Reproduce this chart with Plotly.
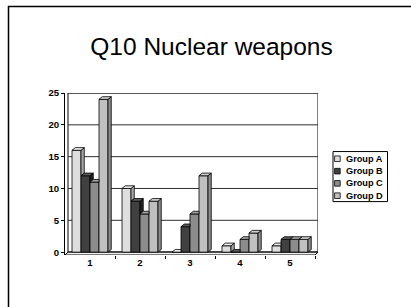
import plotly.graph_objects as go

# ---------------- data ----------------
categories = ["1", "2", "3", "4", "5"]
groups = ["Group A", "Group B", "Group C", "Group D"]
group_a = [16, 10, 0, 1, 1]
group_b = [12, 8, 4, 0, 2]
group_c = [11, 6, 6, 2, 2]
group_d = [24, 8, 12, 3, 2]
y_ticks = [0, 5, 10, 15, 20, 25]
series = [group_a, group_b, group_c, group_d]
title_text = "Q10 Nuclear weapons"

# ---------------- style ----------------
front_colors = ["#dedede", "#404040", "#8c8c8c", "#c0c0c0"]
side_colors = ["#a6a6a6", "#222222", "#5e5e5e", "#8c8c8c"]
top_colors = ["#ececec", "#5a5a5a", "#a2a2a2", "#d0d0d0"]
FONT = "Liberation Sans, Arial, sans-serif"

W, H = 411, 307
L, R, T, B = 65, 93, 93, 52.14
PW = W - L - R
PH = H - T - B
XR = [-0.56, 4.5]
YR = [-0.45, 25]

bar_w = 0.18          # width of one bar (category units)
shift = -0.06         # front plane offset relative to back wall
dx, dy = 0.065, 0.42  # 3-D depth (x units, y units)


def paper(px, py):
    return (px - L) / PW, (H - B - py) / PH


fig = go.Figure()
n = len(groups)

# front faces (real bars)
for j, (name, vals) in enumerate(zip(groups, series)):
    fig.add_trace(go.Bar(
        x=[i + shift for i in range(len(categories))],
        y=vals,
        width=bar_w,
        offset=-n / 2 * bar_w + j * bar_w,
        name=name,
        marker=dict(color=front_colors[j], line=dict(color="#000000", width=0.8)),
        showlegend=False,
        hoverinfo="skip",
    ))

# top and side faces (derived from the same values)
for j, vals in enumerate(series):
    tx, ty, sx, sy = [], [], [], []
    for i, v in enumerate(vals):
        x0 = i + shift - n / 2 * bar_w + j * bar_w
        x1 = x0 + bar_w
        nxt = series[j + 1][i] if j + 1 < n else None
        if nxt is not None and nxt > v:
            tx += [x0, x0 + dx, x1, x1, x0, None]
            ty += [v, v + dy, v + dy, v, v, None]
        else:
            tx += [x0, x0 + dx, x1 + dx, x1, x0, None]
            ty += [v, v + dy, v + dy, v, v, None]
            low = 0 if nxt is None else nxt
            if v > low or nxt is None:
                sx += [x1, x1, x1 + dx, x1 + dx, x1, None]
                sy += [low, v, v + dy, low + dy, low, None]
    fig.add_trace(go.Scatter(x=sx, y=sy, mode="lines", fill="toself",
                             fillcolor=side_colors[j], line=dict(color="#000000", width=0.8),
                             showlegend=False, hoverinfo="skip"))
    fig.add_trace(go.Scatter(x=tx, y=ty, mode="lines", fill="toself",
                             fillcolor=top_colors[j], line=dict(color="#000000", width=0.8),
                             showlegend=False, hoverinfo="skip"))

shapes = []
# back wall
shapes.append(dict(type="rect", xref="x", yref="y", x0=-0.5, x1=4.5, y0=0, y1=25,
                   line=dict(color="#000000", width=1), fillcolor="white", layer="below"))
# grid lines on the back wall
for yt in y_ticks:
    shapes.append(dict(type="line", xref="x", yref="y", x0=-0.5, x1=4.5, y0=yt, y1=yt,
                       line=dict(color="#303030", width=1), layer="below"))
# floor
shapes.append(dict(type="path", xref="x", yref="y",
                   path="M -0.5,0 L 4.5,0 L 4.44,-0.45 L -0.56,-0.45 Z",
                   fillcolor="#f0f0f0", line=dict(color="#000000", width=1), layer="below"))
# slide frame
fx0, fy1 = paper(8.5, 6.5)
fx1, fy0 = paper(430, 330)
shapes.append(dict(type="rect", xref="paper", yref="paper", x0=fx0, x1=fx1, y0=fy0, y1=fy1,
                   line=dict(color="#000000", width=1.5), layer="below"))

# legend (drawn manually to match the compact reference legend)
lx0, ly1 = paper(333.0, 151.5)
lx1, ly0 = paper(387.5, 201.5)
shapes.append(dict(type="rect", xref="paper", yref="paper", x0=lx0, x1=lx1, y0=ly0, y1=ly1,
                   line=dict(color="#000000", width=1), fillcolor="white", layer="below"))
annotations = []
row_y = [158.7, 171.1, 183.3, 195.6]
for j, name in enumerate(groups):
    sx0, sy1 = paper(334.6, row_y[j] - 2.8)
    sx1, sy0 = paper(340.2, row_y[j] + 2.8)
    shapes.append(dict(type="rect", xref="paper", yref="paper", x0=sx0, x1=sx1, y0=sy0, y1=sy1,
                       line=dict(color="#000000", width=0.8), fillcolor=front_colors[j]))
    ax, ay = paper(344.6, row_y[j])
    annotations.append(dict(xref="paper", yref="paper", x=ax, y=ay, text="<b>%s</b>" % name,
                            showarrow=False, xanchor="left", yanchor="middle", borderpad=0,
                            font=dict(family=FONT, size=9.2, color="#000000")))

fig.update_layout(
    width=W, height=H,
    margin=dict(l=L, r=R, t=T, b=B, pad=0, autoexpand=False),
    paper_bgcolor="white", plot_bgcolor="rgba(0,0,0,0)",
    barmode="overlay",
    title=dict(text=title_text, xref="container", yref="container",
               x=211.5 / W, y=1 - 46 / H, xanchor="center", yanchor="middle",
               font=dict(family=FONT, size=24.5, color="#000000")),
    shapes=shapes,
    annotations=annotations,
    showlegend=False,
    xaxis=dict(range=XR, showgrid=False, zeroline=False, showline=False, automargin=False,
               tickvals=[i + shift for i in range(len(categories))], ticktext=["<b>%s</b>" % c for c in categories],
               ticks="", tickfont=dict(family=FONT, size=9.6, color="#000000"),
               minor=dict(tickvals=[i + 0.44 for i in range(len(categories))], ticks="outside",
                          ticklen=3, tickcolor="#000000", tickwidth=1, showgrid=False)),
    yaxis=dict(range=YR, showgrid=False, zeroline=False, showline=True, linecolor="#000000",
               linewidth=1, automargin=False,
               tickvals=y_ticks, ticktext=["<b>%d</b>" % v for v in y_ticks],
               ticks="outside", ticklen=3, tickcolor="#000000",
               tickfont=dict(family=FONT, size=9.6, color="#000000")),
)

fig.write_html("out.html", config={"displayModeBar": False},
               post_script="document.body.style.margin='0';document.body.style.overflow='hidden';")
